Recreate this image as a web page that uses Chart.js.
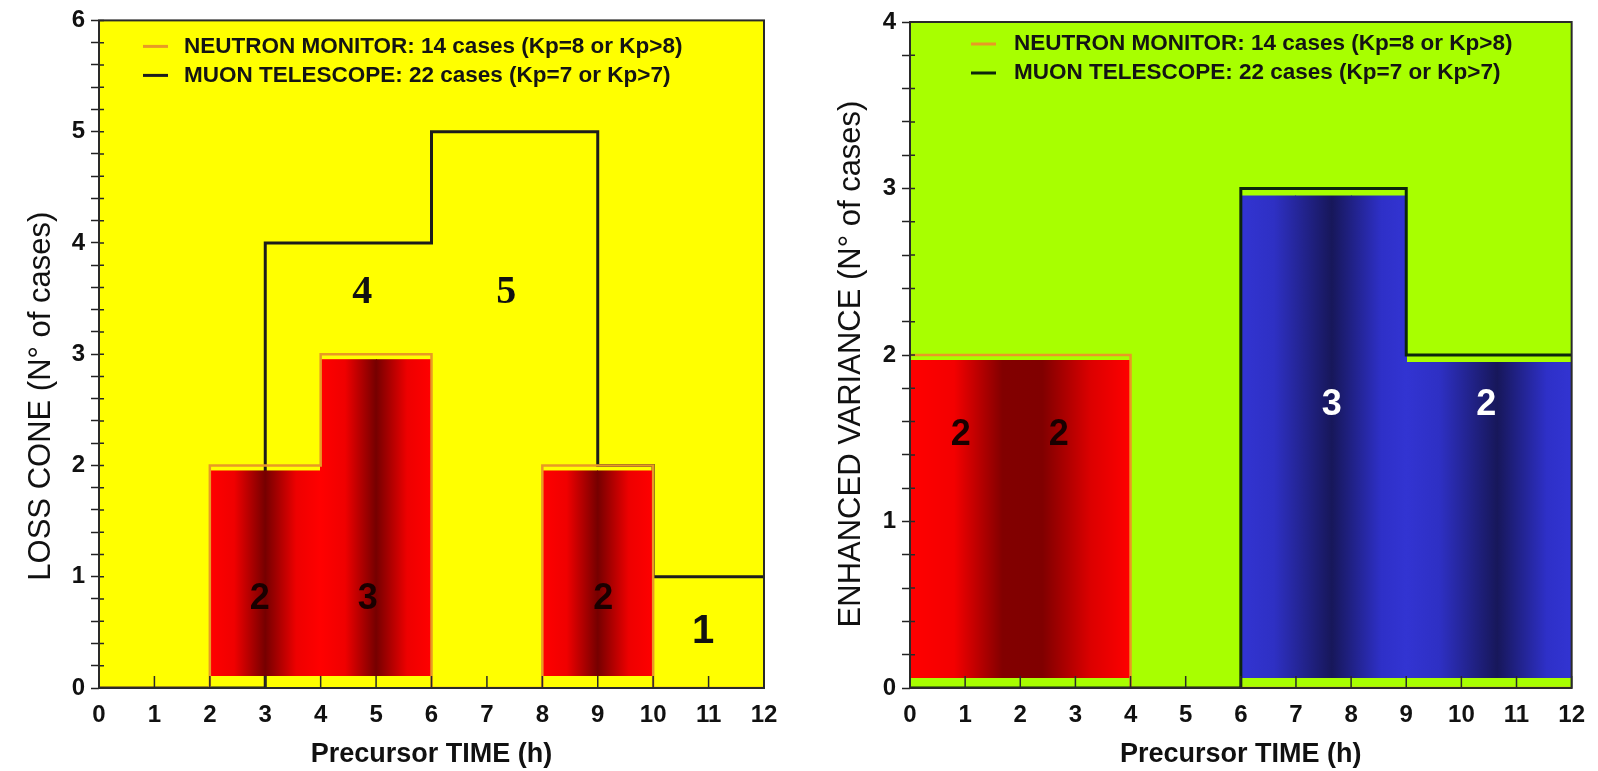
<!DOCTYPE html>
<html>
<head>
<meta charset="utf-8">
<script src="https://cdn.jsdelivr.net/npm/chart.js@4.4.0/dist/chart.umd.min.js"></script>
<style>
  html, body { margin: 0; padding: 0; background: #fff; }
  #wrap { position: relative; width: 1598px; height: 771px; }
  .box { position: absolute; top: 0; width: 799px; height: 771px; }
</style>
</head>
<body>
<div id="wrap">
  <div class="box" style="left:0"><canvas id="lossCone"></canvas></div>
  <div class="box" style="left:799px"><canvas id="variance"></canvas></div>
</div>
<script>
// hourly bins, 0..12 h
const hours = [0, 1, 2, 3, 4, 5, 6, 7, 8, 9, 10, 11, 12];

// value of each 1 h bin (bin i = hours[i]..hours[i+1])
const neutronLossCone = [0, 0, 2, 2, 3, 3, 0, 0, 2, 2, 0, 0];
const muonLossCone    = [0, 0, 0, 4, 4, 4, 5, 5, 5, 2, 1, 1];
const neutronVariance = [2, 2, 2, 2, 0, 0, 0, 0, 0, 0, 0, 0];
const muonVariance    = [0, 0, 0, 0, 0, 0, 3, 3, 3, 2, 2, 2];

const legendLabels = ['NEUTRON MONITOR: 14 cases (Kp=8 or Kp>8)', 'MUON TELESCOPE: 22 cases (Kp=7 or Kp>7)'];

// counts written inside the plots, and where (data coords)
const lossConeCounts  = ['2', '3', '2', '4', '5', '1'];
const lossConeCountAt = [[2.9, 0.8], [4.85, 0.8], [9.1, 0.8], [4.75, 3.55], [7.35, 3.55], [10.9, 0.5]];
const varianceCounts  = ['2', '2', '3', '2'];
const varianceCountAt = [[0.92, 1.52], [2.7, 1.52], [7.65, 1.7], [10.45, 1.7]];

const FONT = '"Liberation Sans", Arial, Helvetica, sans-serif';
const ORANGE = '#e89a25';

function steps(vals) {
  const pts = vals.map((v, i) => ({ x: hours[i], y: v }));
  pts.push({ x: hours[hours.length - 1], y: vals[vals.length - 1] });
  return pts;
}

const redStops = [[0, '#ff0000'], [0.22, '#f00000'], [0.5, '#760000'], [0.78, '#ee0000'], [1, '#ff0000']];
const redWide  = [[0, '#ff0000'], [0.2, '#f40000'], [0.42, '#820000'], [0.6, '#800000'], [0.82, '#dc0000'], [1, '#ff0000']];
const blueStops = [[0, '#3234d2'], [0.2, '#2e30c4'], [0.55, '#17175a'], [0.85, '#2e30c8'], [1, '#3234d2']];

function drawBlocks(chart, b) {
  const pts = chart.data.datasets[b.dataset].data;
  const xs = chart.scales.x, ys = chart.scales.y, ctx = chart.ctx;
  const base = ys.getPixelForValue(0) - b.bottomGap;
  let runStart = null;
  ctx.save();
  for (let i = 0; i < pts.length - 1; i++) {
    const v = pts[i].y;
    if (v <= 0) { runStart = null; continue; }
    if (runStart === null) runStart = pts[i].x;
    const bandStart = runStart + Math.floor((pts[i].x - runStart) / b.band) * b.band;
    const g = ctx.createLinearGradient(xs.getPixelForValue(bandStart), 0, xs.getPixelForValue(bandStart + b.band), 0);
    b.stops.forEach(s => g.addColorStop(s[0], s[1]));
    ctx.fillStyle = g;
    const l = Math.floor(xs.getPixelForValue(pts[i].x));
    const r = Math.ceil(xs.getPixelForValue(pts[i + 1].x));
    const top = ys.getPixelForValue(v) + b.topGap;
    ctx.fillRect(l, top, r - l, base - top);
  }
  ctx.restore();
}

const plotDecor = {
  id: 'plotDecor',
  beforeDraw(chart, args, o) {
    const { ctx, chartArea: a } = chart;
    ctx.save();
    ctx.fillStyle = o.background;
    ctx.fillRect(a.left, a.top, a.width, a.height);
    ctx.restore();
  },
  beforeDatasetDraw(chart, args, o) {
    o.blocks.filter(b => b.dataset === args.index).forEach(b => drawBlocks(chart, b));
  },
  afterDatasetsDraw(chart, args, o) {
    const { ctx, chartArea: a } = chart;
    const xs = chart.scales.x, ys = chart.scales.y;
    ctx.save();
    // frame
    ctx.strokeStyle = '#2a2a2a';
    ctx.lineWidth = 2;
    ctx.strokeRect(a.left, a.top, a.width, a.height);
    // inner ticks
    ctx.lineWidth = 1.5;
    ctx.beginPath();
    xs.ticks.forEach(t => {
      const px = xs.getPixelForValue(t.value);
      ctx.moveTo(px, a.bottom); ctx.lineTo(px, a.bottom - 12);
    });
    ys.ticks.forEach(t => {
      const py = ys.getPixelForValue(t.value);
      ctx.moveTo(a.left, py); ctx.lineTo(a.left + 5, py);
    });
    ctx.stroke();
    // legend
    ctx.font = 'bold 22.5px ' + FONT;
    ctx.textBaseline = 'middle';
    ctx.textAlign = 'left';
    o.legendColors.forEach((c, i) => {
      const y = a.top + o.legendRows[i];
      ctx.strokeStyle = c;
      ctx.lineWidth = 3;
      ctx.beginPath();
      ctx.moveTo(a.left + o.legendDash[0], y); ctx.lineTo(a.left + o.legendDash[1], y);
      ctx.stroke();
      ctx.fillStyle = '#141414';
      ctx.fillText(legendLabels[i], a.left + o.legendText, y);
    });
    // counts
    ctx.textAlign = 'center';
    o.counts.forEach((txt, i) => {
      ctx.font = o.countFonts[i];
      ctx.fillStyle = o.countColors[i];
      ctx.fillText(txt, xs.getPixelForValue(o.countAt[i][0]), ys.getPixelForValue(o.countAt[i][1]));
    });
    // y axis title
    ctx.translate(o.yTitleX, (a.top + a.bottom) / 2 + o.yTitleShift);
    ctx.rotate(-Math.PI / 2);
    ctx.font = '31px ' + FONT;
    ctx.fillStyle = '#111';
    ctx.fillText(o.yTitle, 0, 0);
    ctx.restore();
  }
};

function makeChart(id, c) {
  return new Chart(document.getElementById(id), {
    type: 'line',
    data: {
      datasets: [
        { label: 'NEUTRON MONITOR', data: steps(c.neutron), stepped: true, borderColor: ORANGE, borderWidth: 2.5, pointRadius: 0, fill: false, order: c.neutronOrder },
        { label: 'MUON TELESCOPE', data: steps(c.muon), stepped: true, borderColor: c.muonColor, borderWidth: 3, pointRadius: 0, fill: false, order: c.muonOrder }
      ]
    },
    options: {
      responsive: true,
      maintainAspectRatio: false,
      animation: false,
      layout: { padding: { top: c.padTop, right: c.padRight, left: 0, bottom: 0 } },
      plugins: {
        legend: { display: false },
        tooltip: { enabled: false },
        plotDecor: {
          background: c.background,
          blocks: c.blocks,
          legendColors: [ORANGE, c.muonColor],
          legendRows: c.legendRows,
          legendDash: c.legendDash,
          legendText: c.legendText,
          counts: c.counts,
          countAt: c.countAt,
          countFonts: c.countFonts,
          countColors: c.countColors,
          yTitle: c.yTitle,
          yTitleX: c.yTitleX,
          yTitleShift: c.yTitleShift
        }
      },
      scales: {
        x: {
          type: 'linear', min: 0, max: 12,
          afterFit(s) { s.height = 83; },
          ticks: { stepSize: 1, autoSkip: false, maxRotation: 0, padding: 13, color: '#111', font: { family: FONT, size: 24, weight: 'bold' } },
          grid: { drawOnChartArea: false, drawTicks: false },
          border: { display: false },
          title: { display: true, text: 'Precursor TIME (h)', color: '#111', font: { family: FONT, size: 27, weight: 'bold' }, padding: { top: 0, bottom: 0 } }
        },
        y: {
          type: 'linear', min: 0, max: c.yMax,
          afterFit(s) { s.width = c.yWidth; },
          ticks: {
            stepSize: 0.2, autoSkip: false, padding: 6, color: '#111',
            font: { family: FONT, size: 24, weight: 'bold' },
            callback: v => Math.abs(v - Math.round(v)) < 1e-6 ? String(Math.round(v)) : ''
          },
          grid: { drawOnChartArea: false, tickLength: 8, tickColor: '#222', tickWidth: 1.5 },
          border: { display: false }
        }
      }
    },
    plugins: [plotDecor]
  });
}

makeChart('lossCone', {
  neutron: neutronLossCone, muon: muonLossCone,
  neutronOrder: 0, muonOrder: 1, muonColor: '#1c1c1c',
  background: '#ffff00', yMax: 6, yWidth: 99, padTop: 18, padRight: 35,
  yTitle: 'LOSS CONE (N\u00b0 of cases)', yTitleX: 41, yTitleShift: 42,
  blocks: [{ dataset: 0, band: 2, stops: redStops, topGap: 5, bottomGap: 12 }],
  legendRows: [26, 55], legendDash: [44, 69], legendText: 85,
  counts: lossConeCounts, countAt: lossConeCountAt,
  countFonts: ['bold 36px ' + FONT, 'bold 36px ' + FONT, 'bold 36px ' + FONT,
               'bold 40px "Liberation Serif", serif', 'bold 40px "Liberation Serif", serif', 'bold 40px ' + FONT],
  countColors: ['#1a0000', '#1a0000', '#1a0000', '#111', '#111', '#111']
});

makeChart('variance', {
  neutron: neutronVariance, muon: muonVariance,
  neutronOrder: 1, muonOrder: 0, muonColor: '#0c260c',
  background: '#a8ff00', yMax: 4, yWidth: 111, padTop: 22, padRight: 20,
  yTitle: 'ENHANCED VARIANCE (N\u00b0 of cases)', yTitleX: 52, yTitleShift: 9,
  blocks: [
    { dataset: 0, band: 4, stops: redWide, topGap: 5, bottomGap: 10 },
    { dataset: 1, band: 3, stops: blueStops, topGap: 7, bottomGap: 10 }
  ],
  legendRows: [22, 51], legendDash: [61, 86], legendText: 104,
  counts: varianceCounts, countAt: varianceCountAt,
  countFonts: ['bold 36px ' + FONT, 'bold 36px ' + FONT, 'bold 36px ' + FONT, 'bold 36px ' + FONT],
  countColors: ['#1a0000', '#1a0000', '#ffffff', '#ffffff']
});
</script>
</body>
</html>
